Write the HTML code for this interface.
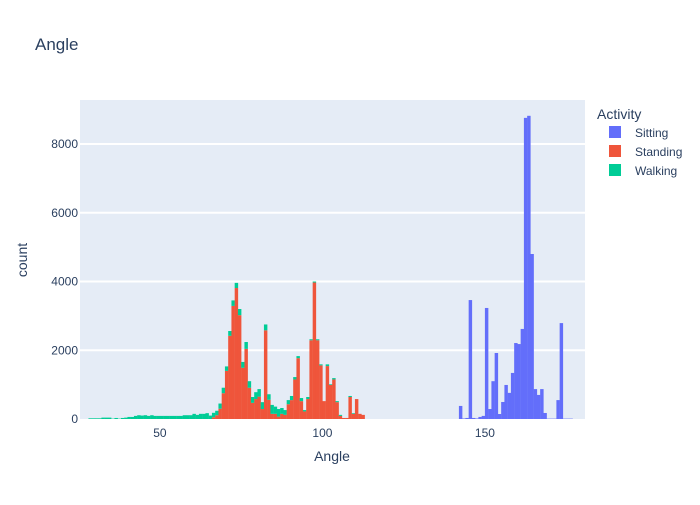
<!DOCTYPE html>
<html><head><meta charset="utf-8"><style>
body{margin:0;background:#fff;font-family:"Liberation Sans",Arial,sans-serif}
svg text{font-family:"Liberation Sans",Arial,sans-serif}
</style></head><body>
<svg id="chart" width="700" height="500" xmlns="http://www.w3.org/2000/svg">
<rect x="0" y="0" width="700" height="500" fill="#fff"/>
<rect x="80" y="100" width="505" height="319" fill="#e5ecf6"/>
<g id="grid"></g><g id="bars"></g><g id="axes"></g>
<text x="35" y="50" font-size="17" fill="#2a3f5f">Angle</text>
<text x="332" y="461" font-size="14" fill="#2a3f5f" text-anchor="middle">Angle</text>
<text transform="translate(27,260) rotate(-90)" font-size="14" fill="#2a3f5f" text-anchor="middle">count</text>
<text x="597" y="119" font-size="14" fill="#2a3f5f">Activity</text>
<g><rect x="609" y="126" width="12" height="12" fill="#636efa"/><text x="635" y="137" font-size="12" fill="#2a3f5f">Sitting</text></g>
<g><rect x="609" y="145" width="12" height="12" fill="#ef553b"/><text x="635" y="156" font-size="12" fill="#2a3f5f">Standing</text></g>
<g><rect x="609" y="164" width="12" height="12" fill="#00cc96"/><text x="635" y="175" font-size="12" fill="#2a3f5f">Walking</text></g>
</svg>
<script>
// totals (standing+walking) per 1-degree bin starting at walkStart
const walkStart = 28;
const stackTotals = [20,20,20,20,40,40,40,10,30,10,30,40,60,60,90,110,100,110,90,110,90,90,90,90,90,90,90,90,90,110,110,110,150,120,150,150,170,100,180,240,450,910,1530,2560,3450,3960,
3200,1660,2240,1100,640,780,870,490,2750,720,410,360,290,320,260,550,670,1220,1830,610,260,640,2320,4000,2320,1590,520,1590,1010,1190,520,120,30,30,670,170,580,150,120];
const standStart = 64;
const standing = [0,0,50,110,300,750,1400,2420,3290,3810,
3020,1490,2040,910,470,580,650,290,2580,560,150,150,70,150,120,430,550,1150,1770,520,220,580,2290,3970,2290,1560,520,1540,990,1150,490,90,30,30,640,150,580,150,120];
const sitStart = 142;
const sitting = [380,15,30,3460,30,15,60,90,3230,290,1100,1920,145,495,990,760,1340,2210,2180,2620,8760,8820,4800,870,700,870,175,10,10,10,550,2790,10,10,10];
const yTicks = [0,2000,4000,6000,8000];
const xTicks = [50,100,150];

const X0=80,X1=585,Y0=419,Y1=100, xmin=25.4, xmax=180.8, ymax=(419-100)/0.034375;
const xs=v=>X0+(v-xmin)/(xmax-xmin)*(X1-X0);
const ys=v=>Y0-v/ymax*(Y0-Y1);
const NS="http://www.w3.org/2000/svg";
function mk(t,a,p){const e=document.createElementNS(NS,t);for(const k in a)e.setAttribute(k,a[k]);p.appendChild(e);return e;}
const grid=document.getElementById('grid'),bars=document.getElementById('bars'),axes=document.getElementById('axes');
yTicks.forEach(v=>{
  if(v>0){const l=mk('line',{x1:X0,x2:X1,y1:ys(v),y2:ys(v),stroke:'#fff','stroke-width':2},grid);
  
  }
  const t=mk('text',{x:X0-2,y:ys(v)+4,'font-size':12,fill:'#2a3f5f','text-anchor':'end'},axes);t.textContent=v;
  
  
});
xTicks.forEach(v=>{
  const t=mk('text',{x:xs(v),y:Y0+18,'font-size':12,fill:'#2a3f5f','text-anchor':'middle'},axes);t.textContent=v;
  
  
});
function bar(a,lo,hi,color,name){
  if(hi<=lo)return;
  const r=mk('rect',{x:xs(a),width:xs(a+1)-xs(a)+0.2,y:ys(hi),height:ys(lo)-ys(hi),fill:color},bars);
  
  
}
stackTotals.forEach((tot,i)=>{
  const a=walkStart+i;
  const si=a-standStart;
  const st=(si>=0&&si<standing.length)?standing[si]:0;
  bar(a,0,st,'#ef553b','bar-standing');
  bar(a,st,tot,'#00cc96','bar-walking');
});
sitting.forEach((v,i)=>bar(sitStart+i,0,v,'#636efa','bar-sitting'));
</script>
</body></html>
